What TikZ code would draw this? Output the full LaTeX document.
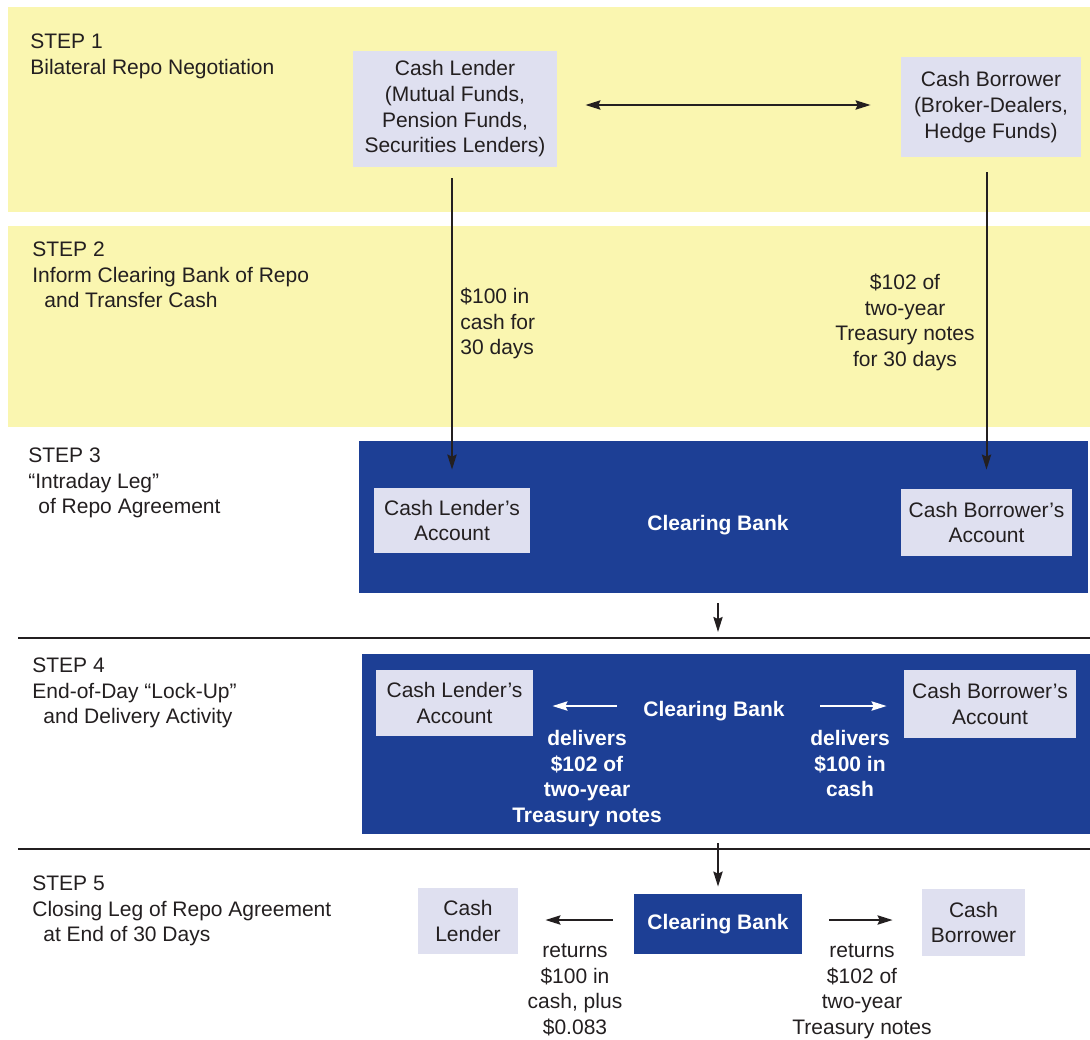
\documentclass[tikz,border=0pt]{standalone}
\usepackage{fontspec}
\setmainfont{Liberation Sans}
\usetikzlibrary{arrows.meta}
\definecolor{stepyellow}{RGB}{250,246,176}
\definecolor{acctgray}{RGB}{223,224,240}
\definecolor{bankblue}{RGB}{29,63,149}
\definecolor{inkgray}{RGB}{35,31,32}

\begin{document}
\begin{tikzpicture}[x=0.5pt, y=-0.5pt,
    >={Stealth[length=7.5pt,width=4.6pt,inset=1pt]},
    every node/.style={font=\fontsize{10.5}{12.85}\selectfont, inner sep=0pt, text=inkgray},
    acct/.style={fill=acctgray, align=center},
    bank/.style={fill=bankblue},
    banklbl/.style={text=white, font=\fontsize{10.5}{12.85}\selectfont\bfseries, align=center},
    steplbl/.style={anchor=base west, align=left},
    arr/.style={->, line width=1pt, inkgray},
    darr/.style={<->, line width=1pt, inkgray},
    warr/.style={->, line width=1pt, white},
    sep/.style={line width=0.7pt, inkgray}]
        \useasboundingbox (0,0) rectangle (1090,1039);
        %yellow bands
        \fill[stepyellow] (8,7) rectangle (1090,212);
        \fill[stepyellow] (8,226) rectangle (1090,427);
        %separators
        \coordinate (sep34) at (18,638);
        \coordinate (sep34e) at (1090,638);
        \coordinate (sep45) at (18,849);
        \coordinate (sep45e) at (1090,849);
        \draw[sep] (sep34) -- (sep34e);
        \draw[sep] (sep45) -- (sep45e);
        %step texts (base = last line)
        \node[steplbl] (step1) at (30,74.2) {STEP 1\\Bilateral Repo Negotiation};
        \node[steplbl] (step2) at (32,307.9) {STEP 2\\Inform Clearing Bank of Repo\\\hspace*{6pt}and Transfer Cash};
        \node[steplbl] (step3) at (28,513.9) {STEP 3\\“Intraday Leg”\\\hspace*{5pt}of Repo Agreement};
        \node[steplbl] (step4) at (32,723.9) {STEP 4\\End-of-Day “Lock-Up”\\\hspace*{5.5pt}and Delivery Activity};
        \node[steplbl] (step5) at (32,941.9) {STEP 5\\Closing Leg of Repo Agreement\\\hspace*{5.5pt}at End of 30 Days};
        %step 1
        \node[acct, minimum width=102pt, minimum height=58pt] (lender1) at (455,109)
          {Cash Lender\\(Mutual Funds,\\Pension Funds,\\Securities Lenders)};
        \node[acct, minimum width=90pt, minimum height=50pt] (borrower1) at (991,107)
          {Cash Borrower\\(Broker-Dealers,\\Hedge Funds)};
        \draw[darr, shorten <=14pt, shorten >=15pt] ([yshift=2pt]lender1.east) -- ([yshift=2pt]lender1.east -| borrower1.west);
        %step 3
        \node[bank, minimum width=364.5pt, minimum height=76pt] (bank3) at (723.5,517) {};
        \node[banklbl] (bank3lbl) at (718,525) {Clearing Bank};
        \node[acct, minimum width=78pt, minimum height=32.5pt] (lacct3) at (452,520.5) {Cash Lender’s\\Account};
        \node[acct, minimum width=85.5pt, minimum height=33.5pt] (bacct3) at (986.5,522.5) {Cash Borrower’s\\Account};
        %step 2 transfers
        \draw[arr, shorten <=5.5pt, shorten >=9pt] (lacct3.north |- lender1.south) -- (lacct3.north);
        \draw[arr, shorten <=7.5pt, shorten >=9.5pt] (bacct3.north |- borrower1.south) -- (bacct3.north);
        \node[anchor=base west, align=left] (cashlbl) at (460,354.9) {\$100 in\\cash for\\30 days};
        \node[anchor=base, align=center] (notelbl) at (905,366.6) {\$102 of\\two-year\\Treasury notes\\for 30 days};
        \draw[arr, shorten <=5pt, shorten >=3pt] (bank3.south -| bank3lbl) -- (sep34 -| bank3lbl);
        %step 4
        \node[bank, minimum width=364pt, minimum height=90pt] (bank4) at (726,744) {};
        \node[banklbl] (bank4lbl) at (714,711) {Clearing Bank};
        \node[acct, minimum width=78.5pt, minimum height=33pt] (lacct4) at (454.5,703) {Cash Lender’s\\Account};
        \node[acct, minimum width=86pt, minimum height=34pt] (bacct4) at (990,704) {Cash Borrower’s\\Account};
        \node[banklbl, anchor=base] (deliv102) at (587,822.6) {delivers\\\$102 of\\two-year\\Treasury notes};
        \node[banklbl, anchor=base] (deliv100) at (850,796.9) {delivers\\\$100 in\\cash};
        \draw[warr, shorten <=13pt, shorten >=9.5pt] ([yshift=2.5pt]bank4lbl.west) -- ([yshift=2.5pt]bank4lbl.west -| lacct4.east);
        \draw[warr, shorten <=17.5pt, shorten >=8.5pt] ([yshift=2.5pt]bank4lbl.east) -- ([yshift=2.5pt]bank4lbl.east -| bacct4.west);
        %step 5
        \node[bank, banklbl, minimum width=84pt, minimum height=30pt] (bank5) at (718,924) {Clearing Bank};
        \node[acct, minimum width=50pt, minimum height=33pt] (lender5) at (468,921) {Cash\\Lender};
        \node[acct, minimum width=51.5pt, minimum height=33.5pt] (borrower5) at (973.5,922.5) {Cash\\Borrower};
        \draw[arr, shorten <=4.5pt, shorten >=3.5pt] (bank5.north |- bank4.south) -- (bank5.north);
        \draw[arr, shorten <=10.5pt, shorten >=13.5pt] ([yshift=2pt]bank5.west) -- ([yshift=2pt]bank5.west -| lender5.east);
        \draw[arr, shorten <=13.5pt, shorten >=14.5pt] ([yshift=2pt]bank5.east) -- ([yshift=2pt]bank5.east -| borrower5.west);
        \node[anchor=base, align=center] (ret100) at (575,1034.6) {returns\\\$100 in\\cash, plus\\\$0.083};
        \node[anchor=base, align=center] (ret102) at (862,1034.6) {returns\\\$102 of\\two-year\\Treasury notes};
\end{tikzpicture}
\end{document}
